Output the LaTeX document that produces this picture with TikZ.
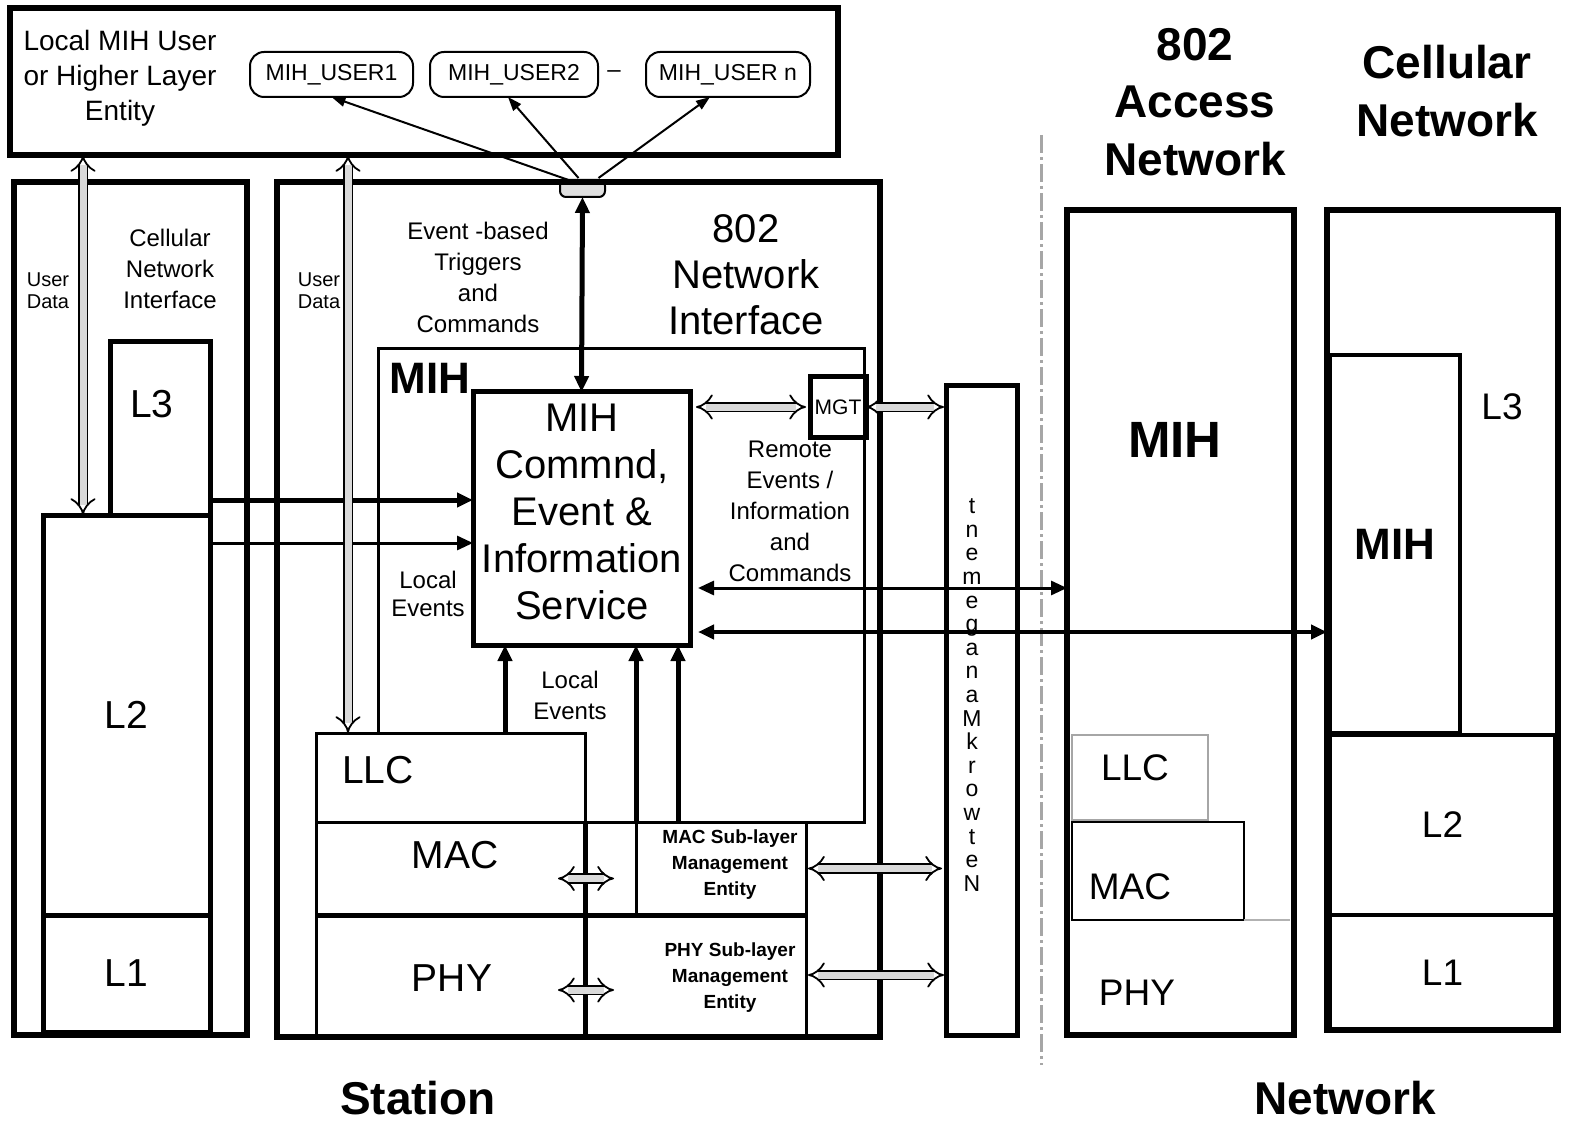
\documentclass[tikz,border=0pt]{standalone}
\usepackage{fontspec}
\setmainfont{Liberation Sans}
\usetikzlibrary{arrows.meta,calc}

% a box given by its corners, in pixels of the picture
\newcommand\layer[7]{%
  \node[#2, inner sep=0pt, outer sep=0pt,
    minimum width={(#5-#3)*0.5pt}, minimum height={(#6-#4)*0.5pt}]
    (#1) at ({(#3+#5)/2},{(#4+#6)/2}) {#7};}

\tikzset{
  heavy/.style={draw, line width=3pt},
  mid/.style={draw, line width=2.5pt},
  light/.style={draw, line width=1.5pt},
  usr/.style={draw, line width=1pt, rounded corners=7pt, font=\fontsize{11.5}{13}\selectfont},
  sap/.style={draw, line width=1pt, rounded corners=3pt, fill=gray!25},
  fXS/.style={font=\fontsize{10}{11}\selectfont, align=center},
  fSME/.style={font=\bfseries\fontsize{9.5}{13}\selectfont, align=center},
  fS/.style={font=\fontsize{12}{15.5}\selectfont, align=center},
  fM/.style={font=\fontsize{14}{17.5}\selectfont, align=center},
  fL/.style={font=\fontsize{19.5}{23.5}\selectfont, align=center},
  fB/.style={font=\bfseries\fontsize{23}{28.8}\selectfont, align=center},
  arr/.style={line width=1pt, -{Triangle[length=7pt,width=5pt]}},
  bigarr/.style={line width=2.5pt},
  hollow/.style={line width=0.9pt, double=gray!30, double distance=3.5pt, {Implies}-{Implies}},
  sep/.style={draw=gray!70, line width=1.5pt, dash pattern=on 9pt off 2pt on 1.5pt off 2pt},
}

\begin{document}
\begin{tikzpicture}[x=0.5pt, y=-0.5pt, >={Triangle[length=8pt,width=7pt]}]
  \useasboundingbox (0,0) rectangle (1573,1128);

  % higher layer entity
  \layer{hl}{heavy}{10}{8}{838}{155}{}
  \node[fM] (hltxt) at (120,78) {Local MIH User\\or Higher Layer\\Entity};
  \layer{u1}{usr}{250}{52}{413}{97}{MIH\_USER1}
  \layer{u2}{usr}{430}{52}{598}{97}{MIH\_USER2}
  \layer{un}{usr}{646}{52}{810}{97}{MIH\_USER n}
  \node[fS] (udots) at (614,74) {--};
  \layer{sap}{sap}{560}{180}{605}{197}{}

  % cellular network interface of the station
  \layer{cni}{heavy}{14}{182}{247}{1035}{}
  \layer{lL3}{mid}{110}{342}{210}{515}{}
  \node[fL] (lL3txt) at (152,404) {L3};
  \layer{lL2}{mid}{43}{515}{210}{915}{\fontsize{19.5}{20}\selectfont L2}
  \layer{lL1}{mid}{43}{915}{210}{1032}{\fontsize{19.5}{20}\selectfont L1}
  \node[fXS] (ud1) at (48,291) {User\\Data};
  \node[fS] (cnitxt) at (170,269) {Cellular\\Network\\Interface};

  % 802 network interface of the station
  \layer{sta}{heavy}{277}{182}{880}{1037}{}
  \node[fXS] (ud2) at (319,291) {User\\Data};
  \node[fS] (evtxt) at (478,277) {Event -based\\Triggers\\and\\Commands};
  \node[fL, font=\fontsize{20}{23}\selectfont] (nitxt) at (746,275) {802\\Network\\Interface};
  \layer{llc}{light}{316}{733}{585}{822}{}
  \layer{mih}{}{378}{349}{864}{822}{}
  \draw[line width=1.5pt] (llc.north -| mih.west) |- (mih.north east) |- (llc.south east);
  \node[font=\bfseries\fontsize{22}{24}\selectfont] (mihtxt) at (430,378) {MIH};
  \layer{core}{mid}{473}{392}{690}{645}{}
  \node[fL, font=\fontsize{20}{23.5}\selectfont] (coretxt) at (582,512) {MIH\\Commnd,\\Event \&\\Information\\Service};
  \layer{mgt}{mid}{810}{377}{866}{437}{\fontsize{10.5}{11}\selectfont MGT}
  \node[fS] (remtxt) at (790,511) {Remote\\Events /\\Information\\and\\Commands};
  \node[fS, font=\fontsize{12}{14}\selectfont] (le1) at (428,594) {Local\\Events};
  \node[fS, font=\fontsize{12}{15.5}\selectfont] (le2) at (570,695) {Local\\Events};
  \layer{mac}{light}{316}{822}{585}{915}{}
  \layer{phy}{light}{316}{915}{585}{1035}{}
  \layer{macsme}{light}{636}{822}{806}{915}{}
  \layer{physme}{light}{585}{915}{806}{1035}{}
  \draw[line width=2.5pt] (mac.south west) -- (macsme.south east);
  \draw[line width=2.5pt] (mac.north east) -- (phy.south east);
  \node[fL] (llctxt) at (378,770) {LLC};
  \node[fL] (mactxt) at (455,855) {MAC};
  \node[fL] (phytxt) at (452,978) {PHY};
  \node[fSME] (macsmetxt) at (730,865) {MAC Sub-layer\\Management\\Entity};
  \node[fSME] (physmetxt) at (730,978) {PHY Sub-layer\\Management\\Entity};

  % network management
  \layer{nm}{mid}{946}{386}{1017}{1035}{}
  \node[font=\fontsize{11.5}{11.8}\selectfont, align=center] (nmtxt) at (972,695)
    {t\\n\\e\\m\\e\\g\\a\\n\\a\\M\\k\\r\\o\\w\\t\\e\\N};

  % separation station / network
  \draw[sep] (1041,135) -- (1041,1065);

  % 802 access network
  \node[fB] (antxt) at (1195,102) {802\\Access\\Network};
  \layer{an}{heavy}{1067}{210}{1294}{1035}{}
  \node[font=\bfseries\fontsize{25.5}{27}\selectfont] (anmih) at (1175,440) {MIH};
  \layer{allc}{draw=gray!70, line width=1.2pt}{1072}{735}{1208}{820}{}
  \layer{amac}{draw, line width=1.2pt}{1072}{822}{1244}{920}{}
  \draw[gray!60, line width=1.2pt] (amac.south east) -- (1290,920);
  \node[fL, font=\fontsize{18.5}{20}\selectfont] (allctxt) at (1135,768) {LLC};
  \node[fL, font=\fontsize{18.5}{20}\selectfont] (amactxt) at (1130,887) {MAC};
  \node[fL, font=\fontsize{18.5}{20}\selectfont] (aphytxt) at (1137,993) {PHY};

  % cellular network
  \node[fB] (cntxt) at (1447,91) {Cellular\\Network};
  \layer{cn}{heavy}{1327}{210}{1558}{1030}{}
  \layer{cmih}{draw, line width=2pt, font=\bfseries\fontsize{22}{24}\selectfont}{1330}{355}{1460}{733}{MIH}
  \node[fL, font=\fontsize{18.5}{20}\selectfont] (cL3txt) at (1502,407) {L3};
  \layer{cL2}{draw, line width=2pt, font=\fontsize{18.5}{20}\selectfont}{1330}{735}{1555}{915}{L2}
  \layer{cL1}{draw, line width=2pt, font=\fontsize{18.5}{20}\selectfont}{1330}{915}{1555}{1030}{L1}

  % bottom titles
  \node[fB] (statxt) at (418,1098) {Station};
  \node[fB] (nettxt) at (1345,1098) {Network};

  % connectors
  \draw[arr] ($(sap.north)+(-14,0)$) -- (u1.south);
  \draw[arr] ($(sap.north)+(-4,-2)$) -- ($(u2.south)+(-6,0)$);
  \draw[arr] ($(sap.north)+(16,-2)$) -- ($(un.south)+(-18,0)$);
  \draw[bigarr, <->] (sap.south) -- (core.north);
  \draw[bigarr, ->] (lL3.east |- 0,500) -- (core.west |- 0,500);
  \draw[line width=1.5pt, ->] (lL2.east |- 0,543) -- (core.west |- 0,543);
  \draw[line width=2.5pt, ->] (llc.north -| 505,0) -- (core.south -| 505,0);
  \draw[line width=2.5pt, ->] (macsme.north west) -- (core.south -| macsme.north west);
  \draw[line width=2.5pt, ->] (mih.south -| 678,0) -- (core.south -| 678,0);
  \draw[line width=1.5pt, <->, shorten <=4pt] (core.east |- 0,588) -- (an.west |- 0,588);
  \draw[line width=2.2pt, <->, shorten <=4pt] (core.east |- 0,632) -- (cn.west |- 0,632);
  \draw[hollow, shorten <=3pt, shorten >=2pt] (core.east |- mgt.west) -- (mgt.west);
  \draw[hollow, shorten >=1pt] (mgt.east) -- (nm.west |- mgt.east);
  \draw[hollow, shorten <=1pt, shorten >=2pt] (macsme.east) -- (nm.west |- macsme.east);
  \draw[hollow, shorten <=1pt, shorten >=1pt] (physme.east) -- (nm.west |- physme.east);
  \draw[hollow] ($(mac.east)+(-27,10)$) -- ($(mac.east)+(29,10)$);
  \draw[hollow] ($(phy.east)+(-27,15)$) -- ($(phy.east)+(29,15)$);
  \draw[hollow] (hl.south -| 83,0) -- (lL2.north -| 83,0);
  \draw[hollow] (hl.south -| 348,0) -- (llc.north -| 348,0);
\end{tikzpicture}
\end{document}
